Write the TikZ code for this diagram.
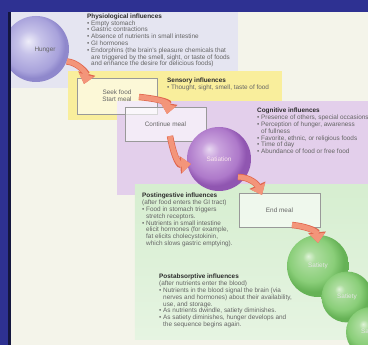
\documentclass[tikz,border=0pt]{standalone}
\usepackage{fontspec}
\setmainfont{Liberation Sans}
\usetikzlibrary{arrows.meta}
\definecolor{frameblue}{HTML}{2E3192}
\definecolor{framedark}{HTML}{14163F}
\definecolor{cream}{HTML}{F4F4EA}
\definecolor{lav}{HTML}{E5E5F1}
\definecolor{yel}{HTML}{F9EE9C}
\definecolor{purp}{HTML}{E3CFEB}
\definecolor{grn}{HTML}{D6EED0}
\definecolor{grnlight}{HTML}{E6F4E2}
\definecolor{txt}{HTML}{656565}
\definecolor{ttl}{HTML}{2C2C2C}
\definecolor{arrlight}{HTML}{F3957A}
\definecolor{arrdark}{HTML}{E0664E}
\definecolor{hunA}{HTML}{EEEDF9}
\definecolor{hunB}{HTML}{C6C2E9}
\definecolor{hunC}{HTML}{A8A2DB}
\definecolor{hunD}{HTML}{8F88CC}
\definecolor{satA}{HTML}{E8D8F1}
\definecolor{satB}{HTML}{C9A2DD}
\definecolor{satC}{HTML}{AE79CA}
\definecolor{satD}{HTML}{9056B1}
\definecolor{styA}{HTML}{DFF3D8}
\definecolor{styB}{HTML}{ADDD9F}
\definecolor{styC}{HTML}{8ACE79}
\definecolor{styD}{HTML}{66B256}
\pgfdeclareradialshading{hungerball}{\pgfpoint{-6bp}{6bp}}{color(0bp)=(hunA); color(9bp)=(hunB); color(21bp)=(hunC); color(25bp)=(hunD); color(50bp)=(hunD)}
\pgfdeclareradialshading{satball}{\pgfpoint{-8bp}{8bp}}{color(0bp)=(satA); color(7bp)=(satB); color(20bp)=(satC); color(25bp)=(satD); color(50bp)=(satD)}
\pgfdeclareradialshading{styball}{\pgfpoint{-8bp}{8bp}}{color(0bp)=(styA); color(5bp)=(styB); color(18bp)=(styC); color(25bp)=(styD); color(50bp)=(styD)}
\newcommand\bulind{\hphantom{•\ }}
\tikzset{
  infotext/.style={anchor=north west, inner sep=0pt, align=left, text=txt,
    font=\fontsize{6.4}{6.8}\selectfont},
  mealbox/.style={draw=black!40, line width=0.5pt, fill=white, fill opacity=0.6,
    text opacity=1, text=txt, align=center, inner sep=0pt,
    font=\fontsize{6.4}{7.2}\selectfont},
  sphere/.style={circle, inner sep=0pt, minimum size=#1, font=\fontsize{6.4}{7.2}\selectfont},
  spherelbl/.style={inner sep=0pt, font=\fontsize{6.4}{7.2}\selectfont},
  fatarrow/.style={arrlight, line width=5pt, -{Triangle[width=15pt,length=9.5pt]},
    preaction={draw=arrdark, line width=6.4pt, -{Triangle[width=17pt,length=10.8pt]}}}
}
\begin{document}
\begin{tikzpicture}[x=1pt,y=1pt]
\useasboundingbox (0,0) rectangle (368,-345);
\begin{scope}
\clip (0,0) rectangle (368,-345);
% backgrounds
\fill[cream] (0,0) rectangle (368,-345);
\fill[lav] (11,-12) rectangle (238,-88);
\fill[yel] (68,-71) rectangle (282,-120);
\fill[purp] (117,-101) rectangle (368,-195);
\shade[top color=grn, bottom color=grnlight] (135,-185) rectangle (368,-340);

% boxes
\node[mealbox, minimum width=80pt, minimum height=36pt] (seek) at (117,-96) {Seek food\\Start meal};
\node[mealbox, minimum width=81pt, minimum height=34pt] (cont) at (165.5,-124) {Continue meal};
\node[mealbox, minimum width=81pt, minimum height=34pt] (endm) at (279.5,-210) {End meal};

% spheres
\node[sphere=66pt, shading=hungerball] (hunger) at (36,-49) {};
\node[spherelbl, text=txt] (hungerlbl) at (45,-50) {Hunger};
\node[sphere=64pt, shading=satball, text=white!90!purple] (satiation) at (219,-159) {Satiation};
\node[sphere=62pt, shading=styball, text=white!90!black] (saty1) at (318,-266) {Satiety};
\node[sphere=51pt, shading=styball, text=white!90!black] (saty2) at (347,-297) {Satiety};
\node[sphere=50pt, shading=styball, text=white!90!black] (saty3) at (371,-332) {Satiety};

% texts
\node[infotext] (physio) at (87,-13.5) {{\bfseries\color{ttl}Physiological influences}\\
• Empty stomach\\
• Gastric contractions\\
• Absence of nutrients in small intestine\\
• GI hormones\\
• Endorphins (the brain's pleasure chemicals that\\
\bulind are triggered by the smell, sight, or taste of foods\\
\bulind and enhance the desire for delicious foods)};
\node[infotext] (sensory) at (167,-78) {{\bfseries\color{ttl}Sensory influences}\\
• Thought, sight, smell, taste of food};
\node[infotext] (cognitive) at (257,-108) {{\bfseries\color{ttl}Cognitive influences}\\
• Presence of others, special occasions\\
• Perception of hunger, awareness\\
\bulind of fullness\\
• Favorite, ethnic, or religious foods\\
• Time of day\\
• Abundance of food or free food};
\node[infotext] (postingest) at (142,-193) {{\bfseries\color{ttl}Postingestive influences}\\
(after food enters the GI tract)\\
• Food in stomach triggers\\
\bulind stretch receptors.\\
• Nutrients in small intestine\\
\bulind elicit hormones (for example,\\
\bulind fat elicits cholecystokinin,\\
\bulind which slows gastric emptying).};
\node[infotext] (postabsorb) at (159,-274) {{\bfseries\color{ttl}Postabsorptive influences}\\
(after nutrients enter the blood)\\
• Nutrients in the blood signal the brain (via\\
\bulind nerves and hormones) about their availability,\\
\bulind use, and storage.\\
• As nutrients dwindle, satiety diminishes.\\
• As satiety diminishes, hunger develops and\\
\bulind the sequence begins again.};

% arrows
\coordinate (a1e) at (84,-84);
\coordinate (a2s) at (139,-97);
\coordinate (a2e) at (167,-114);
\coordinate (a3s) at (170,-136);
\coordinate (a3e) at (191,-164);
\coordinate (a4s) at (238,-177);
\coordinate (a4e) at (262,-195);
\coordinate (a5s) at (292,-225);
\coordinate (a5e) at (318,-243);
\draw[fatarrow] (hunger.-22) to[out=-5,in=75] (a1e);
\draw[fatarrow] (a2s) to[out=-5,in=80] (a2e);
\draw[fatarrow] (a3s) to[out=-80,in=185] (a3e);
\draw[fatarrow] (a4s) to[out=0,in=115] (a4e);
\draw[fatarrow] (a5s) to[out=-5,in=95] (a5e);

% frame
\fill[frameblue] (0,0) rectangle (368,-12);
\fill[frameblue] (0,0) rectangle (11,-345);
\fill[framedark] (8.5,-12) rectangle (11,-345);
\end{scope}
\end{tikzpicture}
\end{document}
